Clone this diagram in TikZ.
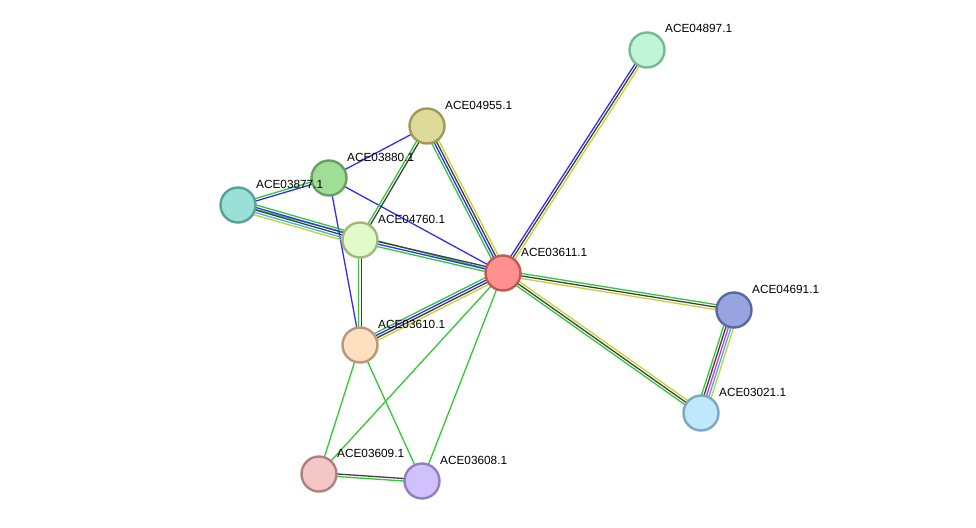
\documentclass[tikz,border=0pt]{standalone}
\usepackage{fontspec}
\setmainfont{Liberation Sans}
\usetikzlibrary{calc}
\pgfdeclarelayer{background}
\pgfsetlayers{background,main}
\definecolor{eg}{HTML}{33C833}
\definecolor{eb}{HTML}{2F2FF5}
\definecolor{ek}{HTML}{404040}
\definecolor{ey}{HTML}{C4D232}
\definecolor{ec}{HTML}{33B8E0}
\definecolor{em}{HTML}{E030E0}
\newcommand\strand[4]{\draw[#3, line width=1.3pt] ($(#1.center)!#4!90:(#2.center)$) -- ($(#2.center)!#4!-90:(#1.center)$);}
\newcommand\medge[3]{%
  \def\nn{0}%
  \foreach \c in {#3}{\xdef\nn{\the\numexpr\nn+1\relax}}%
  \foreach \c [count=\i] in {#3}{%
    \pgfmathsetmacro\off{((\nn+1)/2-\i)*2.5}%
    \strand{#1}{#2}{\c}{\off pt}}%
}
\tikzset{
  prot/.style={circle, minimum size=35pt, inner sep=0pt, line width=2.4pt},
  lbl/.style={anchor=west, inner sep=0pt, font=\fontsize{11.8}{14}\selectfont}
}
\begin{document}
\begin{tikzpicture}[x=1pt,y=-1pt]
\path[use as bounding box] (0,0) rectangle (976,527);
\node[prot, fill={rgb,255:red,192;green,245;blue,216}, draw={rgb,255:red,120;green,184;blue,148}] (n04897) at (647,50) {};
\node[prot, fill={rgb,255:red,222;green,219;blue,154}, draw={rgb,255:red,160;green,154;blue,88}] (n04955) at (427,126) {};
\node[prot, fill={rgb,255:red,160;green,222;blue,152}, draw={rgb,255:red,104;green,160;blue,96}] (n03880) at (329,178) {};
\node[prot, fill={rgb,255:red,152;green,224;blue,216}, draw={rgb,255:red,88;green,160;blue,152}] (n03877) at (238,205) {};
\node[prot, fill={rgb,255:red,224;green,251;blue,200}, draw={rgb,255:red,160;green,184;blue,128}] (n04760) at (360,240) {};
\node[prot, fill={rgb,255:red,255;green,144;blue,144}, draw={rgb,255:red,192;green,88;blue,88}] (n03611) at (503,273) {};
\node[prot, fill={rgb,255:red,152;green,164;blue,224}, draw={rgb,255:red,88;green,104;blue,160}] (n04691) at (734,310) {};
\node[prot, fill={rgb,255:red,255;green,223;blue,192}, draw={rgb,255:red,184;green,152;blue,120}] (n03610) at (360,345) {};
\node[prot, fill={rgb,255:red,192;green,232;blue,251}, draw={rgb,255:red,123;green,168;blue,192}] (n03021) at (701,413) {};
\node[prot, fill={rgb,255:red,245;green,198;blue,198}, draw={rgb,255:red,176;green,128;blue,128}] (n03609) at (319,474) {};
\node[prot, fill={rgb,255:red,208;green,192;blue,251}, draw={rgb,255:red,144;green,128;blue,192}] (n03608) at (422,481) {};
\begin{pgfonlayer}{background}
\medge{n03611}{n04897}{eb,ek,ey}
\medge{n04955}{n03611}{ey,ek,eb,eg}
\medge{n03880}{n04955}{eb}
\medge{n03877}{n03880}{eg,eb}
\medge{n03880}{n03611}{eb}
\medge{n03880}{n03610}{eb}
\medge{n04760}{n04955}{eg,ek}
\medge{n03877}{n03611}{eg}
\medge{n03877}{n04760}{eg,eb,ek,ec,ey}
\medge{n04760}{n03611}{ek,eb,eg}
\medge{n04760}{n03610}{ek,eg}
\medge{n03610}{n03611}{eg,eb,ek,ey}
\medge{n03611}{n04691}{eg,ek,ey}
\medge{n03611}{n03021}{ey,ek,eg}
\medge{n03021}{n04691}{eg,ek,em,ec,ey}
\medge{n03610}{n03609}{eg}
\medge{n03610}{n03608}{eg}
\medge{n03611}{n03609}{eg}
\medge{n03611}{n03608}{eg}
\medge{n03609}{n03608}{ek,eg}
\end{pgfonlayer}
\node[lbl] (l04897) at ($(n04897.center)+(18,-22)$) {ACE04897.1};
\node[lbl] (l04955) at ($(n04955.center)+(18,-21)$) {ACE04955.1};
\node[lbl] (l03880) at ($(n03880.center)+(18,-21)$) {ACE03880.1};
\node[lbl] (l03877) at ($(n03877.center)+(18,-21)$) {ACE03877.1};
\node[lbl] (l04760) at ($(n04760.center)+(18,-21)$) {ACE04760.1};
\node[lbl] (l03611) at ($(n03611.center)+(18,-21)$) {ACE03611.1};
\node[lbl] (l04691) at ($(n04691.center)+(18,-21)$) {ACE04691.1};
\node[lbl] (l03610) at ($(n03610.center)+(18,-21)$) {ACE03610.1};
\node[lbl] (l03021) at ($(n03021.center)+(18,-21)$) {ACE03021.1};
\node[lbl] (l03609) at ($(n03609.center)+(18,-21)$) {ACE03609.1};
\node[lbl] (l03608) at ($(n03608.center)+(18,-21)$) {ACE03608.1};
\end{tikzpicture}
\end{document}
